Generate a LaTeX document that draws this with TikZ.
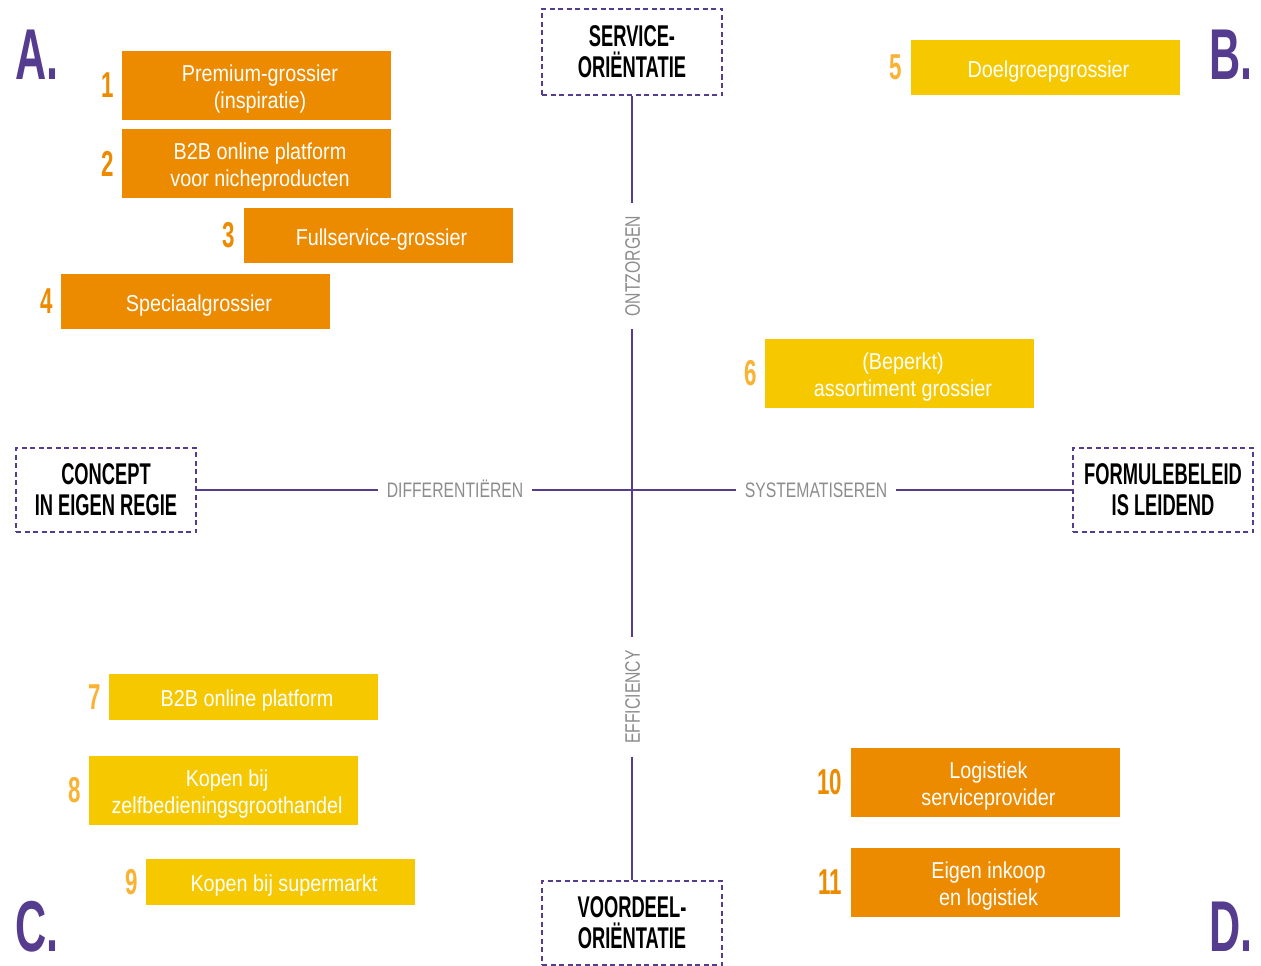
\documentclass[tikz,border=0pt]{standalone}
\usepackage{fontspec}
\setmainfont{Liberation Sans}
\newfontfamily\boxfont[FakeStretch=0.86]{Liberation Sans}
\newfontfamily\capfont[FakeStretch=0.61]{Liberation Sans}
\newfontfamily\numfont[FakeStretch=0.62]{Liberation Sans}
\newfontfamily\letfont[FakeStretch=0.6]{Liberation Sans}
\newfontfamily\axfont[FakeStretch=0.75]{Liberation Sans}
\definecolor{orangebox}{HTML}{EC8A00}
\definecolor{yellowbox}{HTML}{F5C800}
\definecolor{purp}{HTML}{553C8F}
\definecolor{numyellow}{HTML}{F9B233}
\definecolor{axgray}{HTML}{8C8C8C}
% first line: strut to lower the text block a little, and a small shift to the right
\newcommand\fl{\rule{0pt}{24pt}\hspace*{7pt}}
\newcommand\nl{\hspace*{7pt}}
\tikzset{
  basebox/.style={text=white, align=center, inner sep=0pt, minimum width=269pt,
    font=\boxfont\fontsize{23}{27}\selectfont},
  obox/.style={basebox, fill=orangebox},
  ybox/.style={basebox, fill=yellowbox},
  dbox/.style={draw=purp, line width=1.5pt, dash pattern=on 5pt off 3.5pt,
    minimum width=180pt, align=center, inner sep=0pt,
    font=\capfont\bfseries\fontsize{30}{31}\selectfont},
  numlabel/.style={anchor=east, inner sep=0pt, font=\numfont\bfseries\fontsize{36}{36}\selectfont},
  onum/.style={numlabel, text=orangebox},
  ynum/.style={numlabel, text=numyellow},
  letter/.style={text=purp, inner sep=0pt, font=\letfont\bfseries\fontsize{72}{72}\selectfont},
  axis/.style={draw=purp, line width=1.5pt},
  axlabel/.style={text=axgray, inner sep=0pt, text height=15.5pt, text depth=0pt,
    font=\axfont\fontsize{21}{21}\selectfont}
}
\begin{document}
\begin{tikzpicture}[x=1pt,y=-1pt]
\useasboundingbox (0,0) rectangle (1261,966);

% quadrant letters
\node[letter, anchor=base west] (A) at (15,80) {A.};
\node[letter, anchor=base east] (B) at (1253,80) {B.};
\node[letter, anchor=base west] (C) at (15,951) {C.};
\node[letter, anchor=base east] (D) at (1253,951) {D.};

% dashed end boxes
\node[dbox, minimum height=86pt] (top) at (632,52) {SERVICE-\\ORIËNTATIE};
\node[dbox, minimum height=84pt] (bot) at (632,923) {VOORDEEL-\\ORIËNTATIE};
\node[dbox, minimum height=84pt] (lft) at (106,490) {CONCEPT\\IN EIGEN REGIE};
\node[dbox, minimum height=84pt] (rgt) at (1163,490) {FORMULEBELEID\\IS LEIDEND};

% axis labels
\coordinate (c) at (632,490);
\node[axlabel, rotate=90, outer xsep=13pt] (ontz) at (632,266) {ONTZORGEN};
\node[axlabel, rotate=90, outer xsep=13pt] (eff) at (632,697) {EFFICIENCY};
\node[axlabel, outer xsep=9pt] (diff) at (455,490) {DIFFERENTIËREN};
\node[axlabel, outer xsep=9pt] (syst) at (816,490) {SYSTEMATISEREN};

\draw[axis] (top) -- (ontz);
\draw[axis] (ontz) -- (c);
\draw[axis] (c) -- (eff);
\draw[axis] (eff) -- (bot);
\draw[axis] (lft) -- (diff);
\draw[axis] (diff) -- (c);
\draw[axis] (c) -- (syst);
\draw[axis] (syst) -- (rgt);

% boxes
\node[obox, minimum height=69pt] (b1) at (256.5,85.5) {\fl Premium-grossier\\\nl(inspiratie)};
\node[obox, minimum height=69pt] (b2) at (256.5,163.5) {\fl B2B online platform\\\nl voor nicheproducten};
\node[obox, minimum height=55pt] (b3) at (378,235.5) {\fl Fullservice-grossier};
\node[obox, minimum height=55pt] (b4) at (195.5,301.5) {\fl Speciaalgrossier};
\node[ybox, minimum height=55pt] (b5) at (1045,67.5) {\fl Doelgroepgrossier};
\node[ybox, minimum height=69pt] (b6) at (899.5,373.5) {\fl (Beperkt)\\\nl assortiment grossier};
\node[ybox, minimum height=46pt] (b7) at (243.5,697) {\fl B2B online platform};
\node[ybox, minimum height=69pt] (b8) at (223.5,790.5) {\fl Kopen bij\\\nl zelfbedieningsgroothandel};
\node[ybox, minimum height=46pt] (b9) at (280.5,882) {\fl Kopen bij supermarkt};
\node[obox, minimum height=69pt] (b10) at (985,782) {\fl Logistiek\\\nl serviceprovider};
\node[obox, minimum height=69pt] (b11) at (985,882) {\fl Eigen inkoop\\\nl en logistiek};

% numbers
\node[onum] (n1) at ([xshift=-8pt]b1.west) {1};
\node[onum] (n2) at ([xshift=-8pt]b2.west) {2};
\node[onum] (n3) at ([xshift=-8pt]b3.west) {3};
\node[onum] (n4) at ([xshift=-8pt]b4.west) {4};
\node[ynum] (n5) at ([xshift=-8pt]b5.west) {5};
\node[ynum] (n6) at ([xshift=-8pt]b6.west) {6};
\node[ynum] (n7) at ([xshift=-8pt]b7.west) {7};
\node[ynum] (n8) at ([xshift=-8pt]b8.west) {8};
\node[ynum] (n9) at ([xshift=-8pt]b9.west) {9};
\node[onum] (n10) at ([xshift=-8pt]b10.west) {10};
\node[onum] (n11) at ([xshift=-8pt]b11.west) {11};
\end{tikzpicture}
\end{document}
